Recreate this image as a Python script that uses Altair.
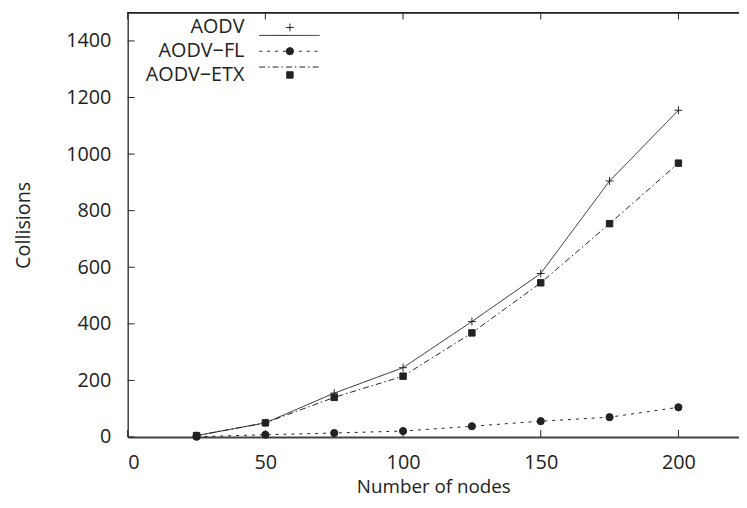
import altair as alt
import pandas as pd

# ---- data ----
nodes = [25, 50, 75, 100, 125, 150, 175, 200]
aodv = [5, 50, 155, 245, 408, 578, 905, 1155]
aodv_fl = [1, 8, 14, 21, 38, 56, 70, 105]
aodv_etx = [5, 50, 140, 215, 368, 545, 754, 968]
series = ["AODV", "AODV\u2212FL", "AODV\u2212ETX"]
x_ticks = [0, 50, 100, 150, 200]
y_ticks = [0, 200, 400, 600, 800, 1000, 1200, 1400]

FONT = "Open Sans"
INK = "#222222"
W, H = 618, 429

rows = []
for name, vals in zip(series, [aodv, aodv_fl, aodv_etx]):
    for n, v in zip(nodes, vals):
        rows.append({"series": name, "nodes": n, "value": v})
df = pd.DataFrame(rows)
leg = pd.DataFrame({"series": series})
xt = pd.DataFrame({"t": x_ticks})
yt = pd.DataFrame({"t": y_ticks})

xscale = alt.Scale(domain=[0, 222], nice=False, zero=False)
yscale = alt.Scale(domain=[0, 1500], nice=False)
dash = alt.StrokeDash("series:N", scale=alt.Scale(domain=series, range=[[1, 0], [3, 5], [6, 3, 1.5, 3]]), legend=None)
shape = alt.Shape("series:N", scale=alt.Scale(domain=series, range=["M-1,0H1M0,-1V1", "circle", "square"]), legend=None)
size = alt.Size("series:N", scale=alt.Scale(domain=series, range=[64, 42, 81]), legend=None)

xaxis = alt.Axis(values=x_ticks, format="d", title="Number of nodes", titleY=60,
                 titleBaseline="bottom", titleFontSize=19, labelPadding=16,
                 domainColor="#444444", domainWidth=2)
x_enc = alt.X("nodes:Q", scale=xscale, axis=xaxis)
y_enc = alt.Y("value:Q", scale=yscale,
              axis=alt.Axis(values=y_ticks, format="d", title="Collisions", titleX=-99, titleY=H / 2,
                            titleAngle=270, titleAlign="center", titleBaseline="alphabetic",
                            labelPadding=17, domainColor=INK, domainWidth=1.3))

def xs(field):
    return alt.X(field, scale=xscale, axis=xaxis)

def ys(field):
    return alt.Y(field, scale=yscale, axis=None)

lines = alt.Chart(df).mark_line(color=INK, strokeWidth=1).encode(
    x=x_enc, y=y_enc, strokeDash=dash, detail="series:N")
pts = alt.Chart(df).mark_point(filled=True, fill=INK, stroke=INK, strokeWidth=1, opacity=1).encode(
    x=xs("nodes:Q"), y=ys("value:Q"), shape=shape, size=size)

# top frame line
top = alt.Chart(xt).mark_rule(color=INK, strokeWidth=1.3).encode(
    x=alt.value(0), x2=alt.value(W), y=alt.value(0))
# inward ticks (gnuplot style)
bt = alt.Chart(xt).mark_rule(color=INK, strokeWidth=1).encode(
    x=xs("t:Q"), y=alt.value(H), y2=alt.value(H - 7))
tt = alt.Chart(xt).mark_rule(color=INK, strokeWidth=1).encode(
    x=xs("t:Q"), y=alt.value(0), y2=alt.value(7))
lt = alt.Chart(yt).mark_rule(color=INK, strokeWidth=1).encode(
    y=ys("t:Q"), x=alt.value(0), x2=alt.value(7))

# key, top-left, labels left of samples
ly = alt.Y("series:N", scale=alt.Scale(domain=series, range=[15, 63], padding=0), axis=None)
ltxt = alt.Chart(leg).mark_text(align="right", baseline="middle", font=FONT, fontSize=20, color=INK).encode(
    x=alt.value(118), y=ly, text="series:N")
lrule = alt.Chart(leg).mark_rule(color=INK, strokeWidth=1).encode(
    x=alt.value(133), x2=alt.value(194), y=ly, strokeDash=dash)
lpt = alt.Chart(leg).mark_point(filled=True, fill=INK, stroke=INK, strokeWidth=1, opacity=1).encode(
    x=alt.value(164), y=ly, shape=shape, size=size)

chart = alt.layer(lines, pts, top, bt, tt, lt, ltxt, lrule, lpt).resolve_scale(
    y="independent"
).properties(
    width=W, height=H,
    autosize=alt.AutoSizeParams(type="none"),
    padding={"left": 121, "top": 2, "right": 0, "bottom": 61},
).configure_view(
    stroke="transparent", strokeWidth=0
).configure_axis(
    labelFont=FONT, labelFontSize=20, labelColor=INK,
    titleFont=FONT, titleFontSize=20, titleFontWeight="normal", titleColor=INK,
    ticks=False, tickSize=0, grid=False,
)

chart.save("out.html", embed_options={"renderer": "svg", "actions": False})
